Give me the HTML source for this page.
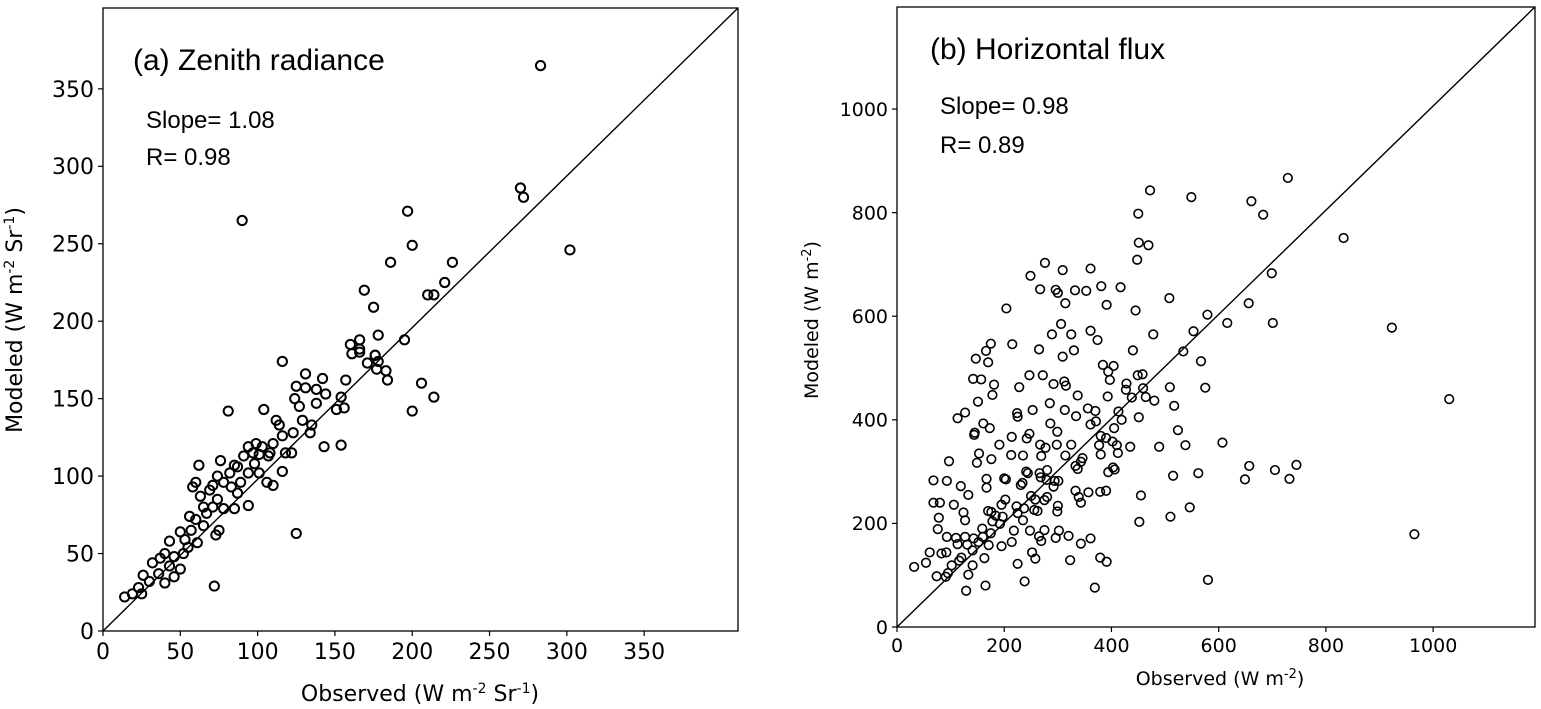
<!DOCTYPE html>
<html><head><meta charset="utf-8"><style>
html,body{margin:0;padding:0;background:#fff;}
svg{display:block;font-family:"DejaVu Sans","Liberation Sans",sans-serif;}
</style></head><body>
<svg id="chart" width="1541" height="709" viewBox="0 0 1541 709"></svg>
<script>
const ticksA=[0,50,100,150,200,250,300,350];
const ticksB=[0,200,400,600,800,1000];
const zenithObserved=[283,270,272,302,90,197,200,186,226,221,210,214,169,195,206,200,214,183,184,176,166,160,
175,166,161,166,178,176,178,171,177,116,131,142,125,131,138,144,124,127,138,157,154,151,156,81,104,112,114,129,135,123,134,143,154,116,94,99,110,108,101,118,122,116,110,106,91,76,85,62,98,94,101,60,58,63,71,78,83,89,87,94,85,74,71,78,67,60,65,57,75,73,50,53,61,55,43,40,46,37,32,50,46,40,26,30,23,19,14,25,72,125,56,65,52,43,36,69,74,82,87,97,103,107];
const zenithModeled=[365,286,280,246,265,271,249,238,238,225,217,217,220,188,160,142,151,168,162,178,188,185,
209,182,179,180,191,178,174,173,169,174,166,163,158,157,156,153,150,145,147,162,151,143,144,142,143,136,133,136,133,128,128,119,120,126,119,121,121,115,114,115,115,103,94,96,113,110,107,107,108,102,102,96,93,87,94,96,93,96,89,81,79,85,80,79,76,72,68,65,65,62,64,59,57,54,58,50,48,47,44,40,35,31,36,32,28,24,22,24,29,63,74,80,50,42,37,91,100,102,106,115,119,113];
const fluxObserved=[729,472,549,661,683,450,833,451,469,448,
276,361,309,249,267,296,300,332,353,381,
417,314,391,699,508,656,445,204,579,616,
701,923,306,289,325,361,374,478,175,215,
265,166,330,440,147,170,309,534,553,567,
384,404,142,157,247,272,394,397,312,181,
228,292,315,428,449,458,427,459,509,575,
178,337,393,438,464,480,151,517,127,113,
224,253,285,313,334,356,370,413,225,161,
173,286,371,361,419,451,405,299,145,144,
524,247,242,214,191,267,277,298,325,380,
390,377,402,410,435,489,538,607,153,213,
235,269,314,380,412,97,149,176,346,343,
333,337,241,244,280,266,403,406,394,657,
745,705,562,515,649,732,68,93,167,200,
203,268,279,294,301,234,231,119,167,292,
133,250,258,275,280,333,339,357,379,390,
343,455,68,80,106,202,195,223,237,256,
262,300,299,546,124,170,176,78,127,184,
197,178,225,235,192,510,452,76,159,218,
248,275,302,160,175,93,110,127,143,265,
269,296,320,361,214,113,131,152,171,195,
343,61,83,92,141,252,120,163,258,323,
379,391,32,54,102,116,141,225,95,74,
91,133,165,238,129,369,580,965,1030];
const fluxModeled=[867,843,830,822,796,798,751,742,737,709,
703,692,689,678,652,651,645,650,649,658,
656,625,622,683,635,625,611,615,603,587,
587,578,585,565,565,572,554,565,547,546,
536,533,534,534,518,511,522,532,571,513,
506,504,479,478,486,486,493,477,474,468,
463,469,466,470,486,488,458,461,463,462,
448,447,445,443,444,437,435,427,414,403,
413,419,432,419,407,422,417,416,406,393,
384,393,397,391,400,405,384,377,375,371,
380,373,364,367,352,352,346,352,352,369,
365,351,358,351,348,348,351,356,335,332,
331,330,331,333,336,320,317,324,326,319,
311,305,300,297,303,297,308,304,299,311,
313,303,297,292,285,286,283,282,286,287,
285,289,284,282,282,278,274,272,269,271,
255,253,246,245,251,263,251,260,261,263,
240,254,240,240,236,246,236,233,229,226,
224,234,223,231,221,224,222,211,206,215,
213,204,220,206,199,213,203,189,190,186,
186,187,186,174,181,174,172,174,171,175,
166,172,176,171,164,160,159,164,158,156,
161,144,142,144,148,144,134,133,132,129,
134,126,116,124,119,128,119,122,104,98,
97,101,80,88,70,76,91,179,440];

const NS='http://www.w3.org/2000/svg';
const svg=document.getElementById('chart');
function mk(tag,attrs,parent,text){const e=document.createElementNS(NS,tag);for(const k in attrs)e.setAttribute(k,attrs[k]);if(text!==undefined)e.textContent=text;(parent||svg).appendChild(e);return e;}

function panel(cfg){
  const g=mk('g',{});
  
  
  const sx=v=>cfg.x0+(v/cfg.xmax)*(cfg.x1-cfg.x0);
  const sy=v=>cfg.y0-(v/cfg.ymax)*(cfg.y0-cfg.y1);
  const frame=mk('rect',{x:cfg.x0,y:cfg.y1,width:cfg.x1-cfg.x0,height:cfg.y0-cfg.y1,fill:'none',stroke:'#000','stroke-width':1.3},g);
  
  
  const line=mk('line',{x1:sx(0),y1:sy(0),x2:cfg.x1,y2:cfg.y1,stroke:'#000','stroke-width':1.4},g);
  
  
  cfg.ticks.forEach(t=>{
    const tx=mk('line',{x1:sx(t),x2:sx(t),y1:cfg.y0,y2:cfg.y0+5,stroke:'#000','stroke-width':1.2},g);
    
    
    const lx=mk('text',{x:sx(t),y:cfg.y0+cfg.fs+6,'font-size':cfg.fs,'text-anchor':'middle'},g,String(t));
    
    
    const ty=mk('line',{x1:cfg.x0-5,x2:cfg.x0,y1:sy(t),y2:sy(t),stroke:'#000','stroke-width':1.2},g);
    
    
    const ly=mk('text',{x:cfg.x0-9,y:sy(t)+cfg.fs*0.36,'font-size':cfg.fs,'text-anchor':'end'},g,String(t));
    
    
  });
  const n=Math.min(cfg.xs.length,cfg.ys.length);
  for(let i=0;i<n;i++){
    const c=mk('circle',{cx:sx(cfg.xs[i]),cy:sy(cfg.ys[i]),r:cfg.r,fill:'none',stroke:'#000','stroke-width':cfg.sw},g);
    
    
  }
  return g;
}

panel({name:'panel-a-zenith-radiance',x0:103,x1:738,y0:631,y1:8,xmax:410.7,ymax:402.2,ticks:ticksA,xs:zenithObserved,ys:zenithModeled,r:4.6,sw:2,fs:22});
panel({name:'panel-b-horizontal-flux',x0:897,x1:1535,y0:627,y1:7,xmax:1190,ymax:1197,ticks:ticksB,xs:fluxObserved,ys:fluxModeled,r:4.3,sw:1.6,fs:19});

function txt(x,y,fs,s,name){const t=mk('text',{x:x,y:y,'font-size':fs,'font-family':'"Liberation Sans",sans-serif'},svg,s);return t;}
txt(133,70,30,'(a) Zenith radiance','panel-a-title');
txt(146,128,24,'Slope= 1.08','panel-a-slope');
txt(146,165,24,'R= 0.98','panel-a-r');
txt(930,59,30,'(b) Horizontal flux','panel-b-title');
txt(940,114,24,'Slope= 0.98','panel-b-slope');
txt(940,153,24,'R= 0.89','panel-b-r');
const xa=mk('text',{x:420,y:701,'font-size':22,'text-anchor':'middle'});

xa.innerHTML='Observed (W m<tspan dy="-8" font-size="14">-2</tspan><tspan dy="8"> Sr</tspan><tspan dy="-8" font-size="14">-1</tspan><tspan dy="8">)</tspan>';
const ya=mk('text',{x:0,y:0,'font-size':22,'text-anchor':'middle',transform:'translate(22,320) rotate(-90)'});

ya.innerHTML='Modeled  (W m<tspan dy="-8" font-size="14">-2</tspan><tspan dy="8"> Sr</tspan><tspan dy="-8" font-size="14">-1</tspan><tspan dy="8">)</tspan>';
const xb=mk('text',{x:1220,y:685,'font-size':19,'text-anchor':'middle'});

xb.innerHTML='Observed (W m<tspan dy="-7" font-size="13">-2</tspan><tspan dy="7">)</tspan>';
const yb=mk('text',{x:0,y:0,'font-size':19,'text-anchor':'middle',transform:'translate(818,320) rotate(-90)'});

yb.innerHTML='Modeled (W m<tspan dy="-7" font-size="13">-2</tspan><tspan dy="7">)</tspan>';
</script>
</body></html>
